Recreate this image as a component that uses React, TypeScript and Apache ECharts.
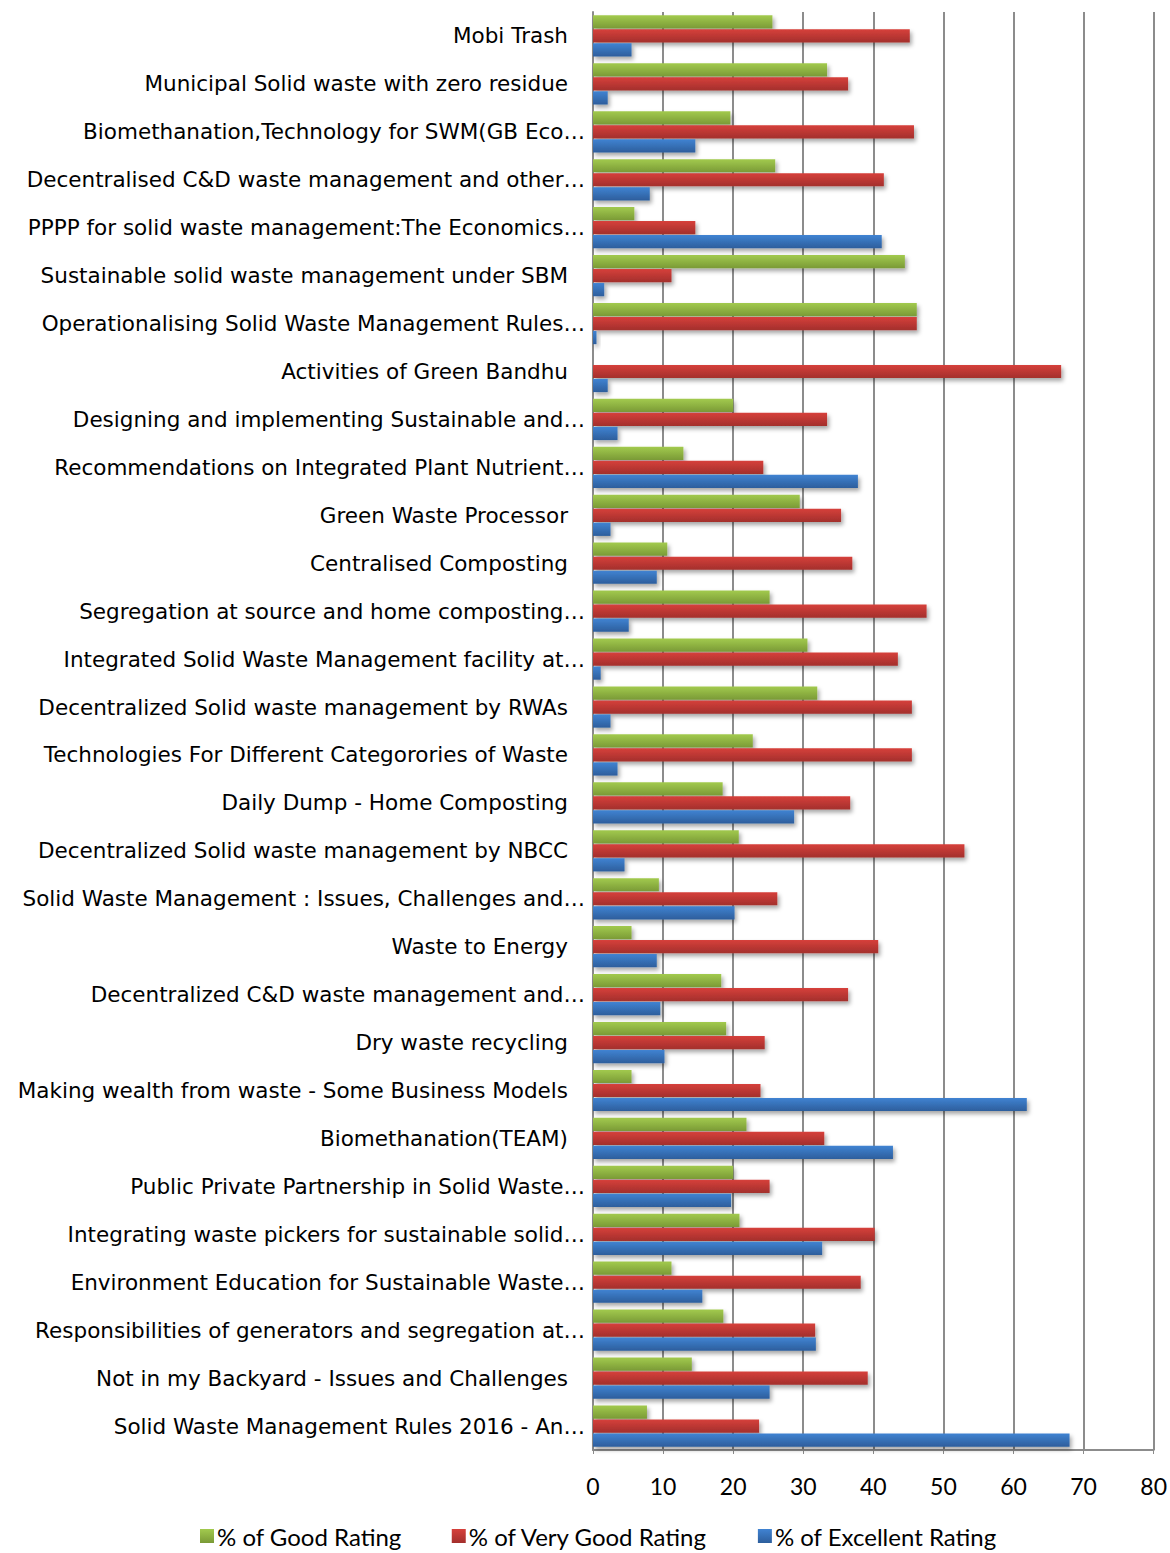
import React, { useEffect, useRef } from "react";
import * as echarts from "echarts";

// Programme titles, listed top to bottom
const categories: string[] = [
  "Mobi Trash",
  "Municipal Solid waste with zero residue",
  "Biomethanation,Technology for SWM(GB Eco…",
  "Decentralised C&D waste management and other…",
  "PPPP for solid waste management:The Economics…",
  "Sustainable solid waste management under SBM",
  "Operationalising Solid Waste Management Rules…",
  "Activities of Green Bandhu",
  "Designing and implementing Sustainable and…",
  "Recommendations on Integrated Plant Nutrient…",
  "Green Waste Processor",
  "Centralised Composting",
  "Segregation at source and home composting…",
  "Integrated Solid Waste Management facility at…",
  "Decentralized Solid waste management by RWAs",
  "Technologies For Different Categorories of Waste",
  "Daily Dump - Home Composting",
  "Decentralized Solid waste management by NBCC",
  "Solid Waste Management : Issues, Challenges and…",
  "Waste to Energy",
  "Decentralized C&D waste management and…",
  "Dry waste recycling",
  "Making wealth from waste - Some Business Models",
  "Biomethanation(TEAM)",
  "Public Private Partnership in Solid Waste…",
  "Integrating waste pickers for sustainable solid…",
  "Environment Education for Sustainable Waste…",
  "Responsibilities of generators and segregation at…",
  "Not in my Backyard - Issues and Challenges",
  "Solid Waste Management Rules 2016 - An…",
];

const goodRating: number[] = [
  25.6, 33.4, 19.6, 26.0, 5.9, 44.5, 46.2, 0, 20.0, 12.9,
  29.5, 10.6, 25.2, 30.6, 32.0, 22.8, 18.5, 20.8, 9.4, 5.5,
  18.3, 19.0, 5.5, 21.9, 20.0, 20.9, 11.2, 18.6, 14.1, 7.7,
];

const veryGoodRating: number[] = [
  45.2, 36.4, 45.8, 41.5, 14.6, 11.2, 46.2, 66.8, 33.4, 24.3,
  35.4, 37.0, 47.6, 43.5, 45.5, 45.5, 36.7, 53.0, 26.3, 40.7,
  36.4, 24.5, 23.9, 33.0, 25.2, 40.2, 38.2, 31.7, 39.2, 23.7,
];

const excellentRating: number[] = [
  5.5, 2.1, 14.6, 8.1, 41.2, 1.6, 0.5, 2.1, 3.5, 37.8,
  2.5, 9.1, 5.1, 1.1, 2.5, 3.5, 28.7, 4.5, 20.2, 9.1,
  9.6, 10.2, 61.9, 42.8, 19.7, 32.7, 15.6, 31.8, 25.2, 68.0,
];

const seriesNames: string[] = [
  "% of Good Rating",
  "% of Very Good Rating",
  "% of Excellent Rating",
];

const xTicks = { min: 0, max: 80, interval: 10 };

const vGrad = (top: string, bottom: string) =>
  new echarts.graphic.LinearGradient(0, 0, 0, 1, [
    { offset: 0, color: top },
    { offset: 1, color: bottom },
  ]);

const labelFont = "'DejaVu Sans', 'Open Sans', sans-serif";
const labelSize = 21.5;
const narrowFont = "'Liberation Sans Narrow', Lato, sans-serif";

export default function App() {
  const ref = useRef<HTMLDivElement>(null);

  useEffect(() => {
    if (!ref.current) return;
    const chart = echarts.init(ref.current, undefined, { renderer: "svg" });

    const barStyle = (top: string, bottom: string) => ({
      color: vGrad(top, bottom),
      shadowColor: "rgba(0,0,0,0.35)",
      shadowBlur: 4,
      shadowOffsetX: 2,
      shadowOffsetY: 3,
    });

    const colors = [
      ["#a2ca4e", "#7a9a36"],
      ["#d6403b", "#a32f2c"],
      ["#4083d2", "#2d5e9c"],
    ];
    const values = [goodRating, veryGoodRating, excellentRating];

    chart.setOption({
      animation: false,
      backgroundColor: "#ffffff",
      grid: { left: 593, right: 15, top: 12, bottom: 103, containLabel: false },
      legend: {
        bottom: 0,
        left: 195,
        itemWidth: 14,
        itemHeight: 14,
        itemGap: 50,
        icon: "rect",
        textStyle: {
          fontFamily: narrowFont,
          fontSize: 24,
          color: "#000",
          padding: [0, 0, 0, -2],
        },
        data: seriesNames,
      },
      xAxis: {
        type: "value",
        min: xTicks.min,
        max: xTicks.max,
        interval: xTicks.interval,
        axisLine: { show: true, lineStyle: { color: "#8c8c8c", width: 2 } },
        axisTick: { show: true, length: 4, lineStyle: { color: "#8c8c8c" } },
        axisLabel: {
          margin: 24,
          fontFamily: narrowFont,
          fontSize: 23,
          color: "#000",
        },
        splitLine: { show: true, lineStyle: { color: "#8c8c8c", width: 2 } },
      },
      yAxis: {
        type: "category",
        inverse: true,
        data: categories,
        axisLine: { show: true, lineStyle: { color: "#8c8c8c", width: 2 } },
        axisTick: { show: false },
        axisLabel: {
          margin: 8,
          fontFamily: labelFont,
          fontSize: labelSize,
          color: "#000",
          formatter: (v: string) => (v.endsWith("…") ? `{e|${v}}` : `{n|${v}}`),
          rich: {
            e: { fontFamily: labelFont, fontSize: labelSize, color: "#000" },
            n: {
              fontFamily: labelFont,
              fontSize: labelSize,
              color: "#000",
              padding: [0, 17, 0, 0],
            },
          },
        },
      },
      series: seriesNames.map((name, i) => ({
        name,
        type: "bar",
        data: values[i],
        barGap: "6%",
        barCategoryGap: "14%",
        itemStyle: barStyle(colors[i][0], colors[i][1]),
      })),
    });

    return () => chart.dispose();
  }, []);

  return (
    <div
      ref={ref}
      style={{ position: "absolute", left: 0, top: 0, width: 1170, height: 1553 }}
    />
  );
}
